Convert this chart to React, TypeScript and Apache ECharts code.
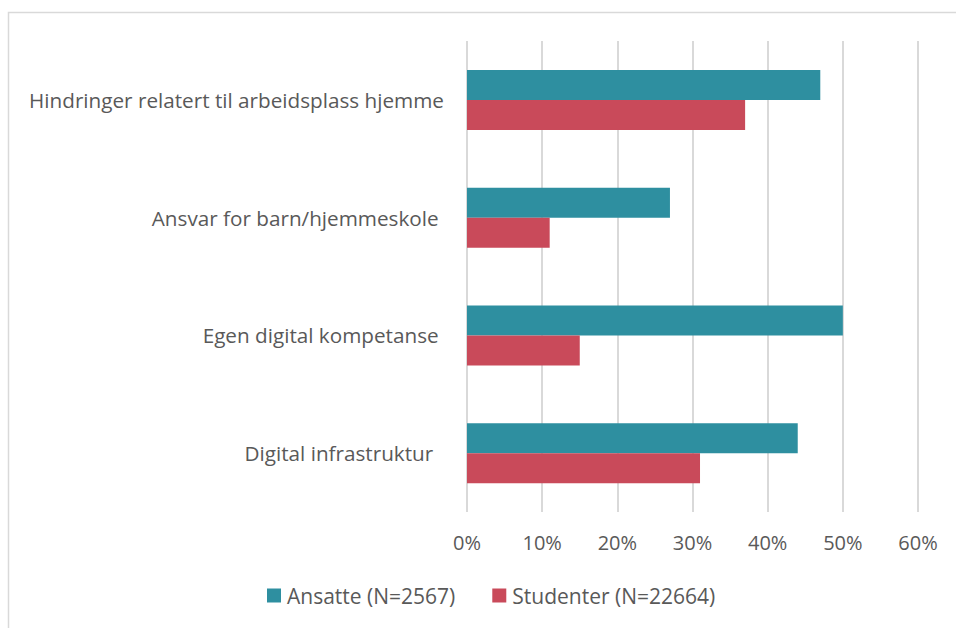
import React, { useEffect, useRef } from "react";
import * as echarts from "echarts";

const categories = [
  "Hindringer relatert til arbeidsplass hjemme",
  "Ansvar for barn/hjemmeskole ",
  "Egen digital kompetanse ",
  "Digital infrastruktur  ",
];
const ansatte = [47, 27, 50, 44];
const studenter = [37, 11, 15, 31];
const seriesNames = ["Ansatte (N=2567)", "Studenter (N=22664)"];

export default function App() {
  const ref = useRef<HTMLDivElement>(null);
  useEffect(() => {
    const chart = echarts.init(ref.current!, null, { renderer: "svg" });
    const font = "'Open Sans', 'Segoe UI', sans-serif";
    chart.setOption({
      animation: false,
      textStyle: { fontFamily: font },
      graphic: [
        {
          type: "rect",
          shape: { x: 8.5, y: 12.5, width: 1000, height: 700 },
          style: { fill: "none", stroke: "#d9d9d9", lineWidth: 1.5 },
          silent: true,
        },
      ],
      grid: { left: 467, right: 38, top: 41, bottom: 116, containLabel: false },
      legend: {
        bottom: 17,
        left: 262,
        itemWidth: 14,
        itemHeight: 14,
        itemGap: 37,
        icon: "rect",
        textStyle: { fontSize: 21, color: "#595959", fontFamily: font, padding: [0, 0, 0, 1] },
        data: seriesNames,
      },
      xAxis: {
        type: "value",
        min: 0,
        max: 60,
        interval: 10,
        axisLabel: {
          formatter: "{value}%",
          fontSize: 20,
          color: "#595959",
          margin: 20,
          fontFamily: font,
        },
        axisLine: { show: false },
        axisTick: { show: false },
        splitLine: { lineStyle: { color: "#d9d9d9", width: 2 } },
      },
      yAxis: {
        type: "category",
        inverse: true,
        data: categories,
        axisLine: { show: false },
        axisTick: { show: false },
        axisLabel: { fontSize: 20.7, color: "#595959", margin: 23, fontFamily: font },
      },
      series: [
        {
          name: seriesNames[0],
          type: "bar",
          data: ansatte,
          barWidth: 30,
          barGap: "0%",
          itemStyle: { color: "#2E8FA0" },
        },
        {
          name: seriesNames[1],
          type: "bar",
          data: studenter,
          barWidth: 30,
          barGap: "0%",
          itemStyle: { color: "#C94A5A" },
        },
      ],
    });
    return () => chart.dispose();
  }, []);
  return (
    <div
      ref={ref}
      style={{ position: "absolute", left: 0, top: 0, width: 956, height: 628 }}
    />
  );
}
